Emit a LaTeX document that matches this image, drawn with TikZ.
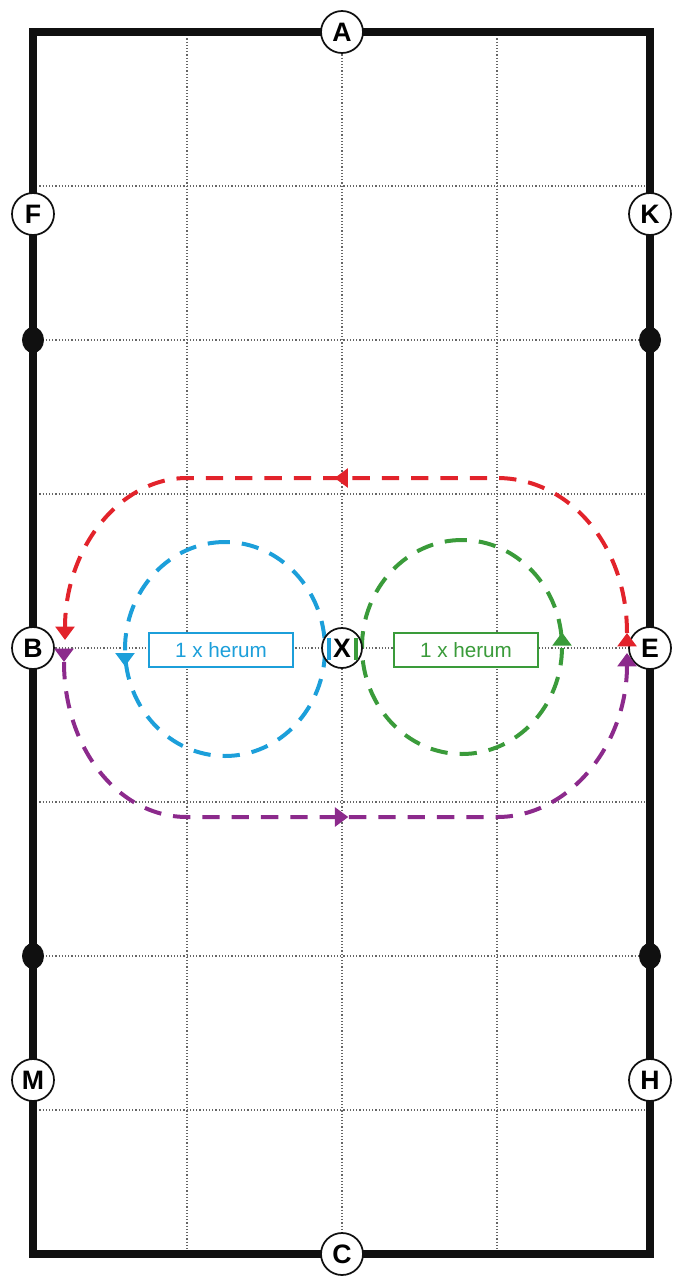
\documentclass[tikz,border=0pt]{standalone}
\usepackage{fontspec}
\setsansfont{Liberation Sans}
\usetikzlibrary{arrows.meta,decorations.markings}
\definecolor{courseblue}{HTML}{1C9FDA}
\definecolor{coursegreen}{HTML}{3A9B3A}
\definecolor{coursered}{HTML}{E2232B}
\definecolor{coursepurple}{HTML}{8C2A8C}
\definecolor{ink}{HTML}{101010}

\begin{document}
\begin{tikzpicture}[x=.75pt,y=-.75pt,line cap=butt,line join=miter,>={Triangle[width=14pt,length=10pt]},
  gridline/.style={black!60,line width=.9pt,dash pattern=on .9pt off 1.5pt},
  letter/.style={circle,draw=ink,line width=1.3pt,fill=white,inner sep=0pt,minimum size=31.5pt,font=\sffamily\bfseries\fontsize{20}{20}\selectfont},
  track/.style={line width=3pt,dash pattern=on 13pt off 9pt},
  tipat/.style={postaction={decorate,decoration={markings,mark=at position #1 with {\arrow{>}}}}},
  tipshift/.style 2 args={postaction={decorate,decoration={markings,mark=at position #1 with {\begin{scope}[xshift=#2]\arrow{>}\end{scope}}}}},
  herum/.style={draw,line width=1.4pt,fill=white,minimum width=108pt,minimum height=25pt,inner sep=0pt,font=\sffamily\fontsize{15.5}{15.5}\selectfont}]
  \useasboundingbox (0,0) rectangle (672,1285);
  \foreach \x in {187,342,497}{
    \draw[gridline] (\x,32)--(\x,1254);
  }
  \foreach \y in {186,340,494,648,802,956,1110}{
    \draw[gridline] (33,\y)--(650,\y);
  }
  \draw[ink,line width=6pt] (33,32) rectangle (650,1254);
  \foreach \x/\y in {33/340,650/340,33/956,650/956}{
    \fill[ink] (\x,\y) ellipse [x radius=11,y radius=13];
  }
  \node[letter] (A) at (342,32) {A};
  \node[letter] (C) at (342,1254) {C};
  \node[letter] (F) at (33,214) {F};
  \node[letter] (K) at (650,214) {K};
  \node[letter] (B) at (33,648) {B};
  \node[letter] (E) at (650,648) {E};
  \node[letter] (M) at (33,1080) {M};
  \node[letter] (H) at (650,1080) {H};
  \draw[track,coursered,tipat=0,tipat=.51,->] (627,633) .. controls (627,545) and (569,478) .. (497,478)
    -- (187,478) .. controls (120,478) and (65,548) .. (65,640);
  \draw[track,coursepurple,tipat=0,tipat=.5,->] (64,662) .. controls (64,749) and (119,817) .. (187,817)
    -- (497,817) .. controls (569,817) and (627,745) .. (627,653);
  \draw[track,courseblue,tipshift={.25}{13pt}] (225,542) .. controls (170,542) and (125,590) .. (125,649)
    .. controls (125,708) and (170,756) .. (225,756) .. controls (280,756) and (325,708) .. (325,649)
    .. controls (325,590) and (280,542) .. (225,542);
  \draw[track,coursegreen,tipshift={.75}{11pt}] (462,540) .. controls (407,540) and (362,588) .. (362,647)
    .. controls (362,706) and (407,754) .. (462,754) .. controls (517,754) and (562,706) .. (562,647)
    .. controls (562,588) and (517,540) .. (462,540);
  \node[letter,minimum size=30pt] (X) at (342,648) {X};
  \draw[courseblue,line width=3pt] (329,638)--(329,660);
  \draw[coursegreen,line width=3pt] (356,638)--(356,660);
  \node[herum,draw=courseblue,text=courseblue] (bluebox) at (221,650) {1 x herum};
  \node[herum,draw=coursegreen,text=coursegreen] (greenbox) at (466,650) {1 x herum};
\end{tikzpicture}
\end{document}
